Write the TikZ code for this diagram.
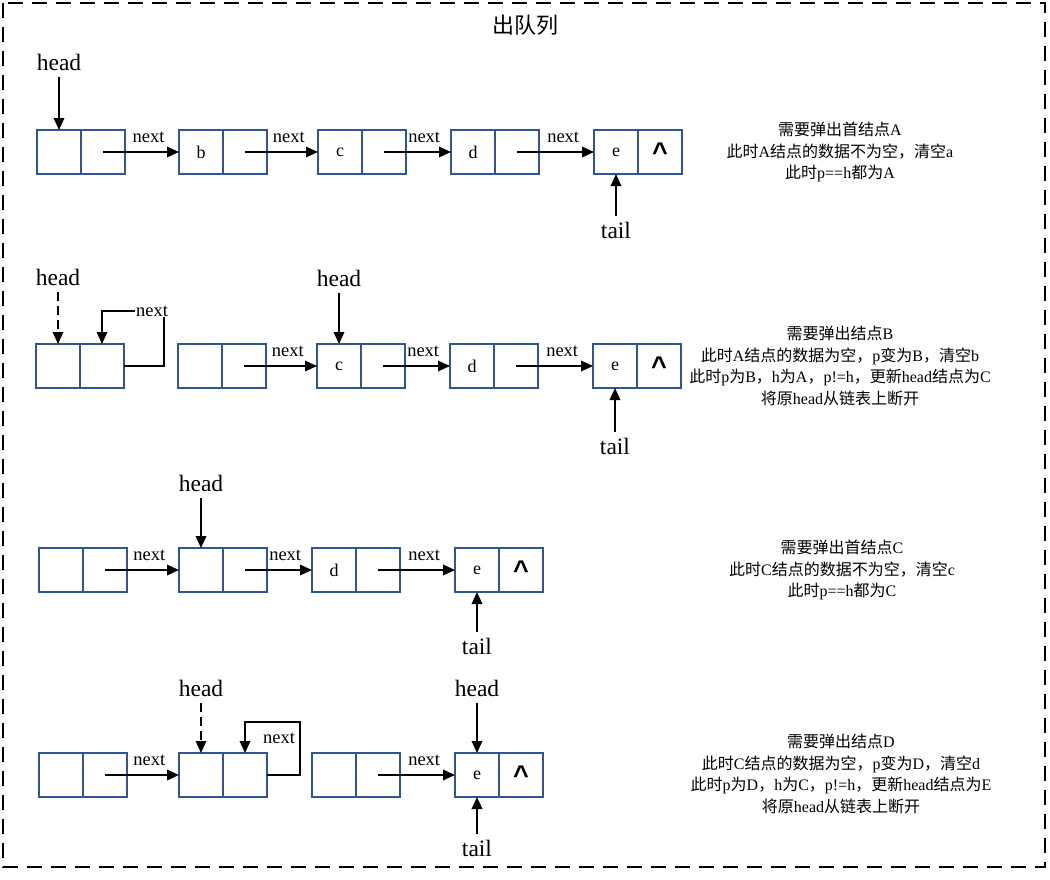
\documentclass[tikz,border=0pt]{standalone}
\usepackage{fontspec}
\setmainfont{Liberation Serif}
\setsansfont{Liberation Sans}
\newfontfamily\cjk{Noto Sans CJK SC}
\usepackage{tikz}
\usetikzlibrary{arrows.meta}
\usepackage{xcolor}
\definecolor{boxblue}{HTML}{2F5597}
\newcommand{\zh}[1]{{\cjk #1}}

\begin{document}
\begin{tikzpicture}[x=1pt,y=-1pt,>={Triangle[length=12pt,width=10.5pt]},
  cell/.style={draw=boxblue,line width=1.7pt,minimum width=44pt,minimum height=44pt,inner sep=0pt,outer sep=0pt,font=\fontsize{18}{20}\selectfont},
  nil/.style={font=\sffamily\bfseries\fontsize{27}{27}\selectfont},
  lbl/.style={font=\fontsize{23.5}{26}\selectfont,inner sep=6pt},
  nxt/.style={font=\fontsize{18.5}{20}\selectfont,inner sep=2pt,pos=0.6,above=6pt},
  loopnxt/.style={font=\fontsize{18.5}{20}\selectfont,inner sep=1pt},
  desc/.style={align=center,font=\fontsize{16}{21.5}\selectfont},
  link/.style={->,line width=1.9pt}]
\useasboundingbox (0,0) rectangle (1050,879);
\draw [line width=1.9pt,dash pattern=on 15pt off 9pt] (3,3) rectangle (1045,867);
\node [font=\cjk\fontsize{22}{24}\selectfont] (title) at (525,25) {出队列};

\node [cell,anchor=north west] (a1) at (37,130) {};
\node [cell,right=0pt,at=(a1.east)] (a1n) {};
\node [cell,anchor=north west] (b1) at (179,130) {b};
\node [cell,right=0pt,at=(b1.east)] (b1n) {};
\node [cell,anchor=north west] (c1) at (318,130) {c};
\node [cell,right=0pt,at=(c1.east)] (c1n) {};
\node [cell,anchor=north west] (d1) at (451,130) {d};
\node [cell,right=0pt,at=(d1.east)] (d1n) {};
\node [cell,anchor=north west] (e1) at (594,130) {e};
\node [cell,nil,right=0pt,at=(e1.east)] (e1n) {\textasciicircum};
\node [lbl,above=53pt,at=(a1.north)] (h1) {head};
\node [lbl,below=42pt,at=(e1.south)] (t1) {tail};
\draw [link] (h1) -- (a1);
\draw [link] (t1) -- (e1);
\draw [link] (a1n.center) -- (b1) node [nxt] (x1ab) {next};
\draw [link] (b1n.center) -- (c1) node [nxt] (x1bc) {next};
\draw [link] (c1n.center) -- (d1) node [nxt] (x1cd) {next};
\draw [link] (d1n.center) -- (e1) node [nxt] (x1de) {next};
\node [desc] (desc1) at (840,152) {\zh{需要弹出首结点}A\\ \zh{此时}A\zh{结点的数据不为空，清空}a\\ \zh{此时}p==h\zh{都为}A};

\node [cell,anchor=north west] (a2) at (36,344) {};
\node [cell,right=0pt,at=(a2.east)] (a2n) {};
\node [cell,anchor=north west] (b2) at (178,344) {};
\node [cell,right=0pt,at=(b2.east)] (b2n) {};
\node [cell,anchor=north west] (c2) at (317,344) {c};
\node [cell,right=0pt,at=(c2.east)] (c2n) {};
\node [cell,anchor=north west] (d2) at (450,344) {d};
\node [cell,right=0pt,at=(d2.east)] (d2n) {};
\node [cell,anchor=north west] (e2) at (593,344) {e};
\node [cell,nil,right=0pt,at=(e2.east)] (e2n) {\textasciicircum};
\node [lbl,above=52pt,at=(a2.north)] (h2old) {head};
\node [lbl,above=51pt,at=(c2.north)] (h2) {head};
\node [lbl,below=44pt,at=(e2.south)] (t2) {tail};
\draw [link,dash pattern=on 9pt off 5pt] (h2old) -- (a2);
\draw [link] (h2) -- (c2);
\draw [link] (t2) -- (e2);
\coordinate (k2) at (164,311);
\draw [link] (a2n.east) -| (k2) -| (a2n.north);
\node [loopnxt,fill=white] (x2aa) at (152,311) {next};
\draw [link] (b2n.center) -- (c2) node [nxt] (x2bc) {next};
\draw [link] (c2n.center) -- (d2) node [nxt] (x2cd) {next};
\draw [link] (d2n.center) -- (e2) node [nxt] (x2de) {next};
\node [desc] (desc2) at (840,366) {\zh{需要弹出结点}B\\ \zh{此时}A\zh{结点的数据为空，}p\zh{变为}B\zh{，清空}b\\ \zh{此时}p\zh{为}B\zh{，}h\zh{为}A\zh{，}p!=h\zh{，更新}head\zh{结点为}C\\ \zh{将原}head\zh{从链表上断开}};

\node [cell,anchor=north west] (a3) at (39,548) {};
\node [cell,right=0pt,at=(a3.east)] (a3n) {};
\node [cell,anchor=north west] (b3) at (179,548) {};
\node [cell,right=0pt,at=(b3.east)] (b3n) {};
\node [cell,anchor=north west] (d3) at (312,548) {d};
\node [cell,right=0pt,at=(d3.east)] (d3n) {};
\node [cell,anchor=north west] (e3) at (455,548) {e};
\node [cell,nil,right=0pt,at=(e3.east)] (e3n) {\textasciicircum};
\node [lbl,above=50pt,at=(b3.north)] (h3) {head};
\node [lbl,below=40pt,at=(e3.south)] (t3) {tail};
\draw [link] (h3) -- (b3);
\draw [link] (t3) -- (e3);
\draw [link] (a3n.center) -- (b3) node [nxt] (x3ab) {next};
\draw [link] (b3n.center) -- (d3) node [nxt] (x3bd) {next};
\draw [link] (d3n.center) -- (e3) node [nxt] (x3de) {next};
\node [desc] (desc3) at (842,570) {\zh{需要弹出首结点}C\\ \zh{此时}C\zh{结点的数据不为空，清空}c\\ \zh{此时}p==h\zh{都为}C};

\node [cell,anchor=north west] (a4) at (39,753) {};
\node [cell,right=0pt,at=(a4.east)] (a4n) {};
\node [cell,anchor=north west] (b4) at (179,753) {};
\node [cell,right=0pt,at=(b4.east)] (b4n) {};
\node [cell,anchor=north west] (c4) at (312,753) {};
\node [cell,right=0pt,at=(c4.east)] (c4n) {};
\node [cell,anchor=north west] (e4) at (455,753) {e};
\node [cell,nil,right=0pt,at=(e4.east)] (e4n) {\textasciicircum};
\node [lbl,above=50pt,at=(b4.north)] (h4old) {head};
\node [lbl,above=50pt,at=(e4.north)] (h4) {head};
\node [lbl,below=37pt,at=(e4.south)] (t4) {tail};
\draw [link,dash pattern=on 9pt off 5pt] (h4old) -- (b4);
\draw [link] (h4) -- (e4);
\draw [link] (t4) -- (e4);
\draw [link] (a4n.center) -- (b4) node [nxt] (x4ab) {next};
\coordinate (k4) at (300,722);
\draw [link] (b4n.east) -| (k4) -| (b4n.north);
\node [loopnxt] (x4bb) at (279,738) {next};
\draw [link] (c4n.center) -- (e4) node [nxt] (x4ce) {next};
\node [desc] (desc4) at (841,774) {\zh{需要弹出结点}D\\ \zh{此时}C\zh{结点的数据为空，}p\zh{变为}D\zh{，清空}d\\ \zh{此时}p\zh{为}D\zh{，}h\zh{为}C\zh{，}p!=h\zh{，更新}head\zh{结点为}E\\ \zh{将原}head\zh{从链表上断开}};
\end{tikzpicture}
\end{document}
